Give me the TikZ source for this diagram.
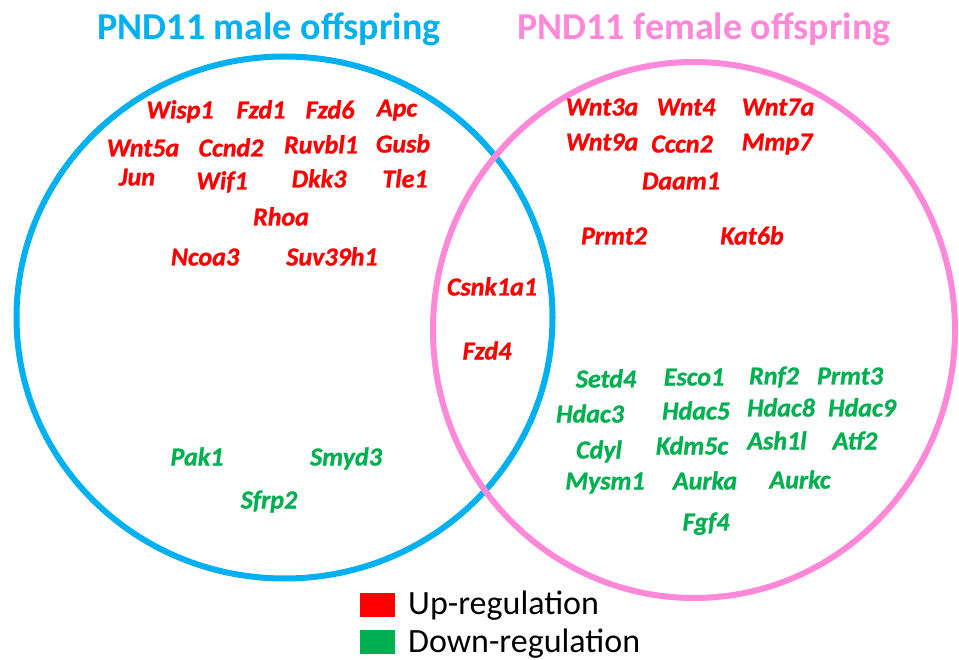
\documentclass[tikz,border=0pt]{standalone}
\usepackage{fontspec}
\setmainfont{Carlito}
\newfontface\genefont[FakeBold=1]{Carlito Bold Italic}
\definecolor{cblue}{RGB}{0,176,240}
\definecolor{cpink}{RGB}{255,136,216}
\definecolor{upred}{RGB}{255,0,0}
\definecolor{dngreen}{RGB}{0,176,80}
\begin{document}
\begin{tikzpicture}[x=1pt,y=-1pt,
  gene/.style={inner sep=0pt, font=\fontsize{26}{26}\genefont, text height=17pt, text depth=0pt},
  gup/.style={gene, text=upred},
  gdn/.style={gene, text=dngreen},
  ttl/.style={inner sep=0pt, anchor=base, font=\fontsize{38}{38}\selectfont\bfseries},
  leg/.style={inner sep=0pt, anchor=base west, font=\fontsize{34}{34}\selectfont},
  ring/.style={line width=6pt}]
\useasboundingbox (0,0) rectangle (959,660);
% circles
\draw[ring, cblue] (284.5,317.5) ellipse [x radius=268pt, y radius=261pt];
\draw[ring, cpink] (694,330) ellipse [x radius=261pt, y radius=268pt];
% titles
\node[ttl, text=cblue] (tm) at (269,40) {PND11 male offspring};
\node[ttl, text=cpink] (tf) at (704,40) {PND11 female offspring};
% left up
\node[gup] (wisp1) at (180,110) {Wisp1};
\node[gup] (fzd1) at (261,110) {Fzd1};
\node[gup] (fzd6) at (330,110) {Fzd6};
\node[gup] (apc) at (397,108) {Apc};
\node[gup] (wnt5a) at (143,148) {Wnt5a};
\node[gup] (ccnd2) at (231,148) {Ccnd2};
\node[gup] (ruvbl1) at (321,145) {Ruvbl1};
\node[gup] (gusb) at (403,144) {Gusb};
\node[gup] (jun) at (137,177) {Jun};
\node[gup] (wif1) at (222,181) {Wif1};
\node[gup] (dkk3) at (319,179) {Dkk3};
\node[gup] (tle1) at (405,179) {Tle1};
\node[gup] (rhoa) at (281,217) {Rhoa};
\node[gup] (ncoa3) at (205,257) {Ncoa3};
\node[gup] (suv) at (332,257) {Suv39h1};
% right up
\node[gup] (wnt3a) at (602,107) {Wnt3a};
\node[gup] (wnt4) at (686,107) {Wnt4};
\node[gup] (wnt7a) at (778,107) {Wnt7a};
\node[gup] (wnt9a) at (602,142) {Wnt9a};
\node[gup] (cccn2) at (682,144) {Cccn2};
\node[gup] (mmp7) at (777,142) {Mmp7};
\node[gup] (daam1) at (681,181) {Daam1};
\node[gup] (prmt2) at (614,236) {Prmt2};
\node[gup] (kat6b) at (752,236) {Kat6b};
% intersection
\node[gup] (csnk) at (492,287) {Csnk1a1};
\node[gup] (fzd4) at (487,351) {Fzd4};
% right down
\node[gdn] (setd4) at (606,379) {Setd4};
\node[gdn] (esco1) at (694,377) {Esco1};
\node[gdn] (rnf2) at (774,376) {Rnf2};
\node[gdn] (prmt3) at (850,376) {Prmt3};
\node[gdn] (hdac3) at (590,414) {Hdac3};
\node[gdn] (hdac5) at (696,411) {Hdac5};
\node[gdn] (hdac8) at (781,408) {Hdac8};
\node[gdn] (hdac9) at (862,408) {Hdac9};
\node[gdn] (cdyl) at (599,450) {Cdyl};
\node[gdn] (kdm5c) at (692,446) {Kdm5c};
\node[gdn] (ash1l) at (777,441) {Ash1l};
\node[gdn] (atf2) at (855,441) {Atf2};
\node[gdn] (mysm1) at (605,481) {Mysm1};
\node[gdn] (aurka) at (705,481) {Aurka};
\node[gdn] (aurkc) at (800,480) {Aurkc};
\node[gdn] (fgf4) at (706,522) {Fgf4};
% left down
\node[gdn] (pak1) at (197,457) {Pak1};
\node[gdn] (smyd3) at (346,457) {Smyd3};
\node[gdn] (sfrp2) at (269,500) {Sfrp2};
% legend
\fill[upred] (360,593) rectangle (395,617);
\fill[dngreen] (360,630) rectangle (395,654);
\node[leg] (lup) at (408,614) {Up-regulation};
\node[leg] (ldn) at (408,652) {Down-regulation};
\end{tikzpicture}
\end{document}
